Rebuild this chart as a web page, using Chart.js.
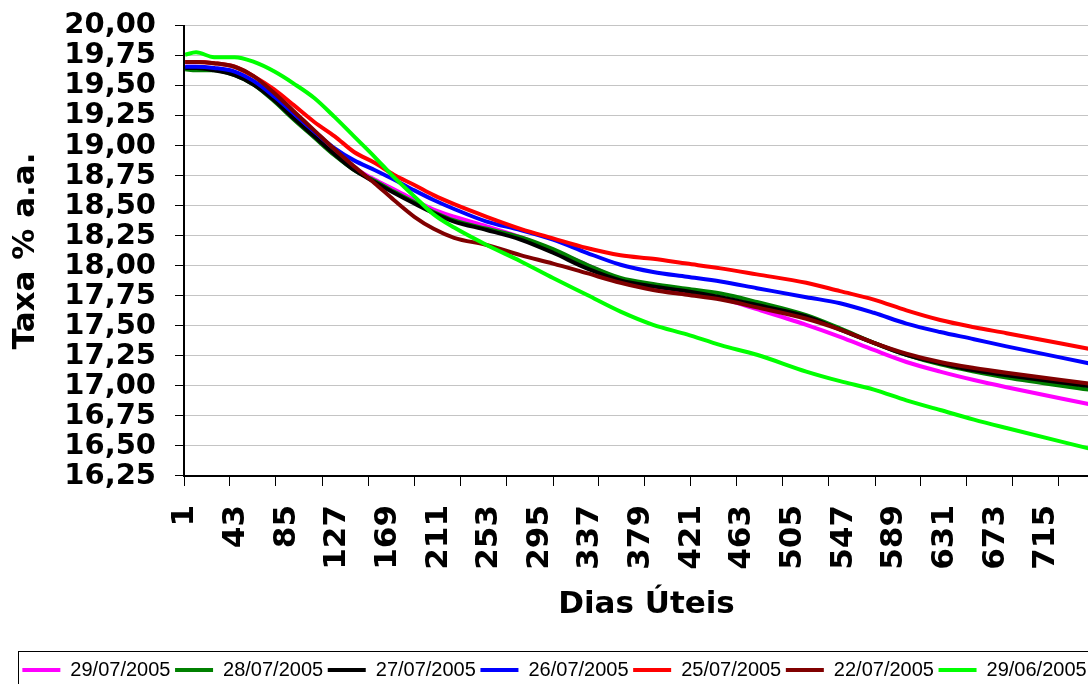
<!DOCTYPE html>
<html>
<head>
<meta charset="utf-8">
<script src="https://cdn.jsdelivr.net/npm/chart.js@4.4.1/dist/chart.umd.min.js"></script>
<style>
  html, body { margin: 0; padding: 0; background: #fff; overflow: hidden; width: 1088px; height: 684px; }
  canvas { display: block; }
</style>
</head>
<body>
<canvas id="c" width="1112" height="690" style="width:1112px;height:690px"></canvas>
<script>
// ---- data ----
const DAYS = [1, 10, 25, 42, 58, 75, 91, 108, 125, 141, 158, 174, 191, 207, 224, 251, 279, 306, 334, 362, 389, 417, 445, 475, 516, 544, 572, 599, 627, 655, 682, 750];

const S_29_07 = [19.66, 19.66, 19.64, 19.60, 19.52, 19.39, 19.24, 19.09, 18.94, 18.82, 18.72, 18.64, 18.55, 18.47, 18.41, 18.33, 18.24, 18.13, 18.01, 17.89, 17.83, 17.78, 17.73, 17.64, 17.51, 17.41, 17.30, 17.20, 17.12, 17.05, 16.99, 16.85];
const S_28_07 = [19.64, 19.63, 19.63, 19.59, 19.51, 19.37, 19.22, 19.07, 18.92, 18.80, 18.71, 18.62, 18.53, 18.45, 18.38, 18.31, 18.24, 18.14, 18.01, 17.90, 17.85, 17.81, 17.77, 17.70, 17.59, 17.48, 17.36, 17.26, 17.18, 17.12, 17.07, 16.97];
const S_27_07 = [19.65, 19.65, 19.63, 19.59, 19.51, 19.38, 19.23, 19.08, 18.93, 18.80, 18.70, 18.61, 18.52, 18.44, 18.37, 18.30, 18.22, 18.11, 17.98, 17.88, 17.83, 17.79, 17.74, 17.675, 17.58, 17.47, 17.36, 17.26, 17.19, 17.13, 17.09, 17.00];
const S_26_07 = [19.66, 19.66, 19.65, 19.62, 19.54, 19.41, 19.27, 19.12, 18.98, 18.88, 18.80, 18.72, 18.63, 18.55, 18.475, 18.37, 18.30, 18.22, 18.11, 18.01, 17.95, 17.91, 17.87, 17.815, 17.74, 17.69, 17.61, 17.52, 17.45, 17.39, 17.33, 17.19];
const S_25_07 = [19.70, 19.70, 19.69, 19.66, 19.58, 19.47, 19.34, 19.20, 19.08, 18.95, 18.86, 18.76, 18.675, 18.59, 18.515, 18.41, 18.31, 18.23, 18.15, 18.09, 18.06, 18.02, 17.98, 17.93, 17.86, 17.79, 17.72, 17.63, 17.55, 17.49, 17.44, 17.31];
const S_22_07 = [19.70, 19.70, 19.69, 19.66, 19.58, 19.44, 19.29, 19.13, 18.97, 18.83, 18.69, 18.55, 18.41, 18.31, 18.235, 18.175, 18.09, 18.02, 17.94, 17.86, 17.80, 17.76, 17.72, 17.655, 17.56, 17.47, 17.36, 17.27, 17.20, 17.15, 17.11, 17.02];
const S_29_06 = [19.76, 19.78, 19.74, 19.74, 19.70, 19.62, 19.52, 19.40, 19.24, 19.08, 18.91, 18.74, 18.58, 18.43, 18.32, 18.175, 18.04, 17.90, 17.76, 17.62, 17.51, 17.43, 17.34, 17.26, 17.12, 17.04, 16.97, 16.88, 16.80, 16.72, 16.65, 16.48];

const SERIES_NAMES  = ['29/07/2005', '28/07/2005', '27/07/2005', '26/07/2005', '25/07/2005', '22/07/2005', '29/06/2005'];
const SERIES_VALUES = [S_29_07, S_28_07, S_27_07, S_26_07, S_25_07, S_22_07, S_29_06];
const SERIES_COLORS = ['#FF00FF', '#008000', '#000000', '#0000FF', '#FF0000', '#800000', '#00FF00'];

const X_LABEL_DAYS   = [1, 43, 85, 127, 169, 211, 253, 295, 337, 379, 421, 463, 505, 547, 589, 631, 673, 715];
const TICK_MARK_DAYS = [0, 38, 76, 115, 153, 191, 229, 267, 306, 344, 382, 420, 458, 496, 534, 573, 611, 649, 687, 725, 763];
const Y_TICKS = [16.25, 16.5, 16.75, 17, 17.25, 17.5, 17.75, 18, 18.25, 18.5, 18.75, 19, 19.25, 19.5, 19.75, 20];
const X_MIN = 0, X_MAX = 767;

// ---- build datasets (reverse order so the last series is painted on top) ----
const datasets = SERIES_NAMES.map((name, i) => ({
  label: name,
  data: DAYS.map((d, j) => ({ x: d, y: SERIES_VALUES[i][j] })),
  borderColor: SERIES_COLORS[i],
  backgroundColor: SERIES_COLORS[i],
  borderWidth: 4,
  pointRadius: 0,
  tension: 0.4,
  cubicInterpolationMode: 'monotone',
  xAxisID: 'x',
  yAxisID: 'y'
})).reverse();

const legendFrame = {
  id: 'legendFrame',
  afterDraw(chart) {
    const lg = chart.legend;
    if (!lg || !lg.legendHitBoxes || !lg.legendHitBoxes.length) return;
    const hb = lg.legendHitBoxes[0];
    const ctx = chart.ctx;
    const cy = hb.top + hb.height / 2;
    ctx.save();
    ctx.strokeStyle = '#000';
    ctx.lineWidth = 1;
    ctx.strokeRect(Math.round(hb.left - 4) + 0.5, Math.round(cy - 19) + 0.5, chart.width, 60);
    ctx.restore();
  }
};

Chart.defaults.font.family = 'DejaVu Sans';
Chart.defaults.color = '#000';

new Chart(document.getElementById('c'), {
  type: 'line',
  data: { datasets },
  plugins: [legendFrame],
  options: {
    responsive: false,
    animation: false,
    devicePixelRatio: 1,
    layout: { padding: { top: 0, right: 3, left: 0, bottom: 0 } },
    plugins: {
      tooltip: { enabled: false },
      legend: {
        position: 'bottom',
        reverse: true,
        labels: {
          font: { family: 'Liberation Sans', size: 20, weight: 'normal' },
          color: '#000',
          boxWidth: 38,
          boxHeight: 4,
          padding: 4.6,
          generateLabels(chart) {
            return Chart.defaults.plugins.legend.labels.generateLabels(chart).map(l => Object.assign(l, { lineWidth: 0 }));
          }
        }
      }
    },
    scales: {
      y: {
        type: 'linear',
        min: 16.25,
        max: 20,
        afterBuildTicks(scale) { scale.ticks = Y_TICKS.map(v => ({ value: v })); },
        afterFit(scale) { scale.width = 184; },
        ticks: {
          font: { size: 29, weight: 'bold', lineHeight: 0.48 },
          padding: 19,
          autoSkip: false,
          callback: v => Number(v).toFixed(2).replace('.', ',')
        },
        grid: { color: '#c4c4c4', lineWidth: 1, tickColor: '#000', tickLength: 9, tickWidth: 1 },
        border: { display: true, color: '#000', width: 2 },
        title: {
          display: true,
          text: 'Taxa % a.a.',
          font: { size: 31, weight: 'bold' },
          padding: { top: 7, bottom: 0 }
        }
      },
      x2: {
        type: 'linear',
        position: 'bottom',
        weight: 0,
        min: X_MIN,
        max: X_MAX,
        afterBuildTicks(scale) { scale.ticks = TICK_MARK_DAYS.map(v => ({ value: v })); },
        afterFit(scale) { scale.height = 10; },
        ticks: { display: false },
        grid: { display: true, drawOnChartArea: false, drawTicks: true, tickLength: 10, tickColor: '#000', tickWidth: 1 },
        border: { display: true, color: '#000', width: 2 }
      },
      x: {
        type: 'linear',
        position: 'bottom',
        weight: 1,
        min: X_MIN,
        max: X_MAX,
        afterBuildTicks(scale) { scale.ticks = X_LABEL_DAYS.map(v => ({ value: v })); },
        afterFit(scale) { scale.height = 169.4; },
        ticks: {
          font: { size: 31, weight: 'bold' },
          padding: 19,
          autoSkip: false,
          maxRotation: 90,
          minRotation: 90,
          callback: v => String(v)
        },
        grid: { display: false, drawTicks: false },
        border: { display: false },
        title: {
          display: true,
          text: 'Dias Úteis',
          font: { size: 31, weight: 'bold' },
          padding: { top: 0, bottom: 32 }
        }
      }
    }
  }
});
</script>
</body>
</html>
